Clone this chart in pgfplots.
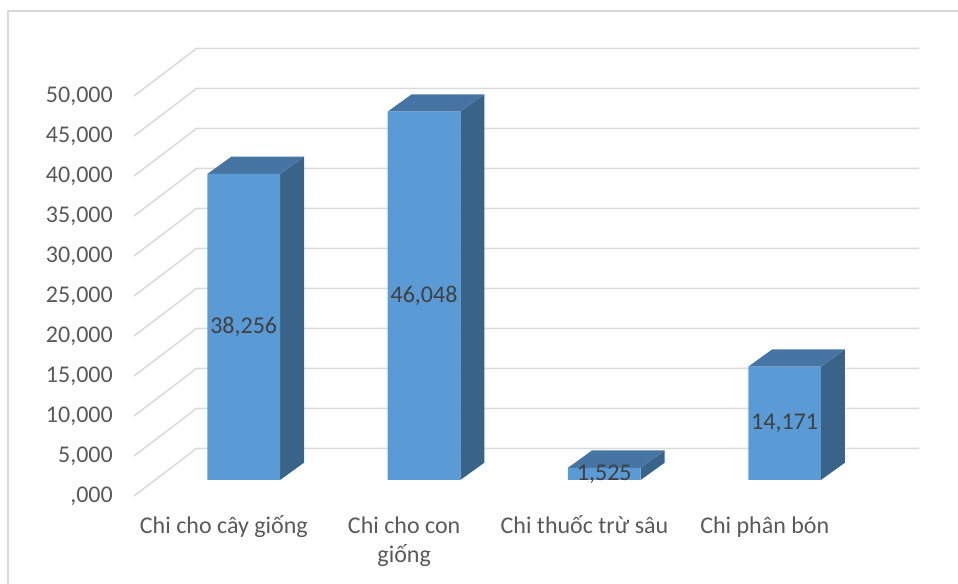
\documentclass[border=0pt]{standalone}
\usepackage{pgfplots}
\pgfplotsset{compat=1.18}
\usepackage{pgfplotstable}
\usepackage{fontspec}
\setmainfont{Carlito}
\definecolor{front}{HTML}{5B9BD5}
\definecolor{topc}{HTML}{4674A3}
\definecolor{side}{HTML}{3A638A}
\definecolor{gridc}{HTML}{D9D9D9}
\definecolor{tickc}{HTML}{595959}
\definecolor{lblc}{HTML}{404040}

\pgfplotstableread{
x v
0 38256
1 46048
2 1525
3 14171
}\data

\begin{document}
\begin{tikzpicture}
\begin{axis}[
  scale only axis,
  width=958pt, height=584pt,
  xmin=-1.3516, xmax=3.9617,
  ymin=-13000, ymax=60000,
  axis line style={draw=none},
  tick style={draw=none},
  major tick length=0pt,
  scaled y ticks=false,
  ytick={-2000,3000,8000,13000,18000,23000,28000,33000,38000,43000,48000},
  yticklabels={{,000},{5,000},{10,000},{15,000},{20,000},{25,000},{30,000},{35,000},{40,000},{45,000},{50,000}},
  yticklabel style={anchor=east, inner sep=0pt, xshift=113pt, text=tickc,
    font=\fontsize{24}{29}\selectfont},
  xtick={-0.11,0.89,1.89,2.89},
  xticklabels={\rule{0pt}{24pt}Chi cho cây giống,\rule{0pt}{24pt}Chi cho con\\giống,\rule{0pt}{24pt}Chi thuốc trừ sâu,\rule{0pt}{24pt}Chi phân bón},
  xticklabel style={anchor=north, align=center, inner sep=0pt, yshift=75pt, text=tickc,
    font=\fontsize{24}{29}\selectfont},
  /pgf/number format/.cd, fixed, precision=0, 1000 sep={,}, assume math mode=true,
]
% chart border
\addplot[gridc, line width=1.3pt] coordinates {(4.2,58625) (-1.307,58625) (-1.307,-14000)};
% walls
\addplot[gridc, line width=1.5pt, unbounded coords=jump] coordinates {
(-0.6082,-2000) (-0.2604,3963) (3.7457,3963) (nan,nan)
(-0.6082,3000) (-0.2604,8963) (3.7457,8963) (nan,nan)
(-0.6082,8000) (-0.2604,13963) (3.7457,13963) (nan,nan)
(-0.6082,13000) (-0.2604,18963) (3.7457,18963) (nan,nan)
(-0.6082,18000) (-0.2604,23963) (3.7457,23963) (nan,nan)
(-0.6082,23000) (-0.2604,28963) (3.7457,28963) (nan,nan)
(-0.6082,28000) (-0.2604,33963) (3.7457,33963) (nan,nan)
(-0.6082,33000) (-0.2604,38963) (3.7457,38963) (nan,nan)
(-0.6082,38000) (-0.2604,43963) (3.7457,43963) (nan,nan)
(-0.6082,43000) (-0.2604,48963) (3.7457,48963) (nan,nan)
(-0.6082,48000) (-0.2604,53963) (3.7457,53963)
};
% side faces
\addplot[fill=side, draw=none] coordinates {(0.2016,0) (0.3347,2163) (0.3347,40419) (0.2016,38256)};
\addplot[fill=side, draw=none] coordinates {(1.2016,0) (1.3347,2163) (1.3347,48211) (1.2016,46048)};
\addplot[fill=side, draw=none] coordinates {(2.2016,0) (2.3347,2163) (2.3347,3688) (2.2016,1525)};
\addplot[fill=side, draw=none] coordinates {(3.2016,0) (3.3347,2163) (3.3347,16334) (3.2016,14171)};
% top faces
\addplot[fill=topc, draw=none] coordinates {(-0.2016,38256) (0.2016,38256) (0.3347,40419) (-0.0685,40419)};
\addplot[fill=topc, draw=none] coordinates {(0.7984,46048) (1.2016,46048) (1.3347,48211) (0.9315,48211)};
\addplot[fill=topc, draw=none] coordinates {(1.7984,1525) (2.2016,1525) (2.3347,3688) (1.9315,3688)};
\addplot[fill=topc, draw=none] coordinates {(2.7984,14171) (3.2016,14171) (3.3347,16334) (2.9315,16334)};
% front faces
\addplot[ybar, bar width=0.4032, bar shift=0pt, fill=front, draw=none] table[x=x, y=v] {\data};
% data labels
\addplot[draw=none, mark=none, point meta=explicit,
  nodes near coords,
  nodes near coords style={anchor=center, inner sep=0pt, text=lblc, font=\fontsize{24}{29}\selectfont}]
  table[x=x, y expr=\thisrow{v}/2, meta=v] {\data};
\end{axis}
\pgfresetboundingbox
\path[use as bounding box] (current axis.south west) rectangle (current axis.north east);
\end{tikzpicture}
\end{document}
